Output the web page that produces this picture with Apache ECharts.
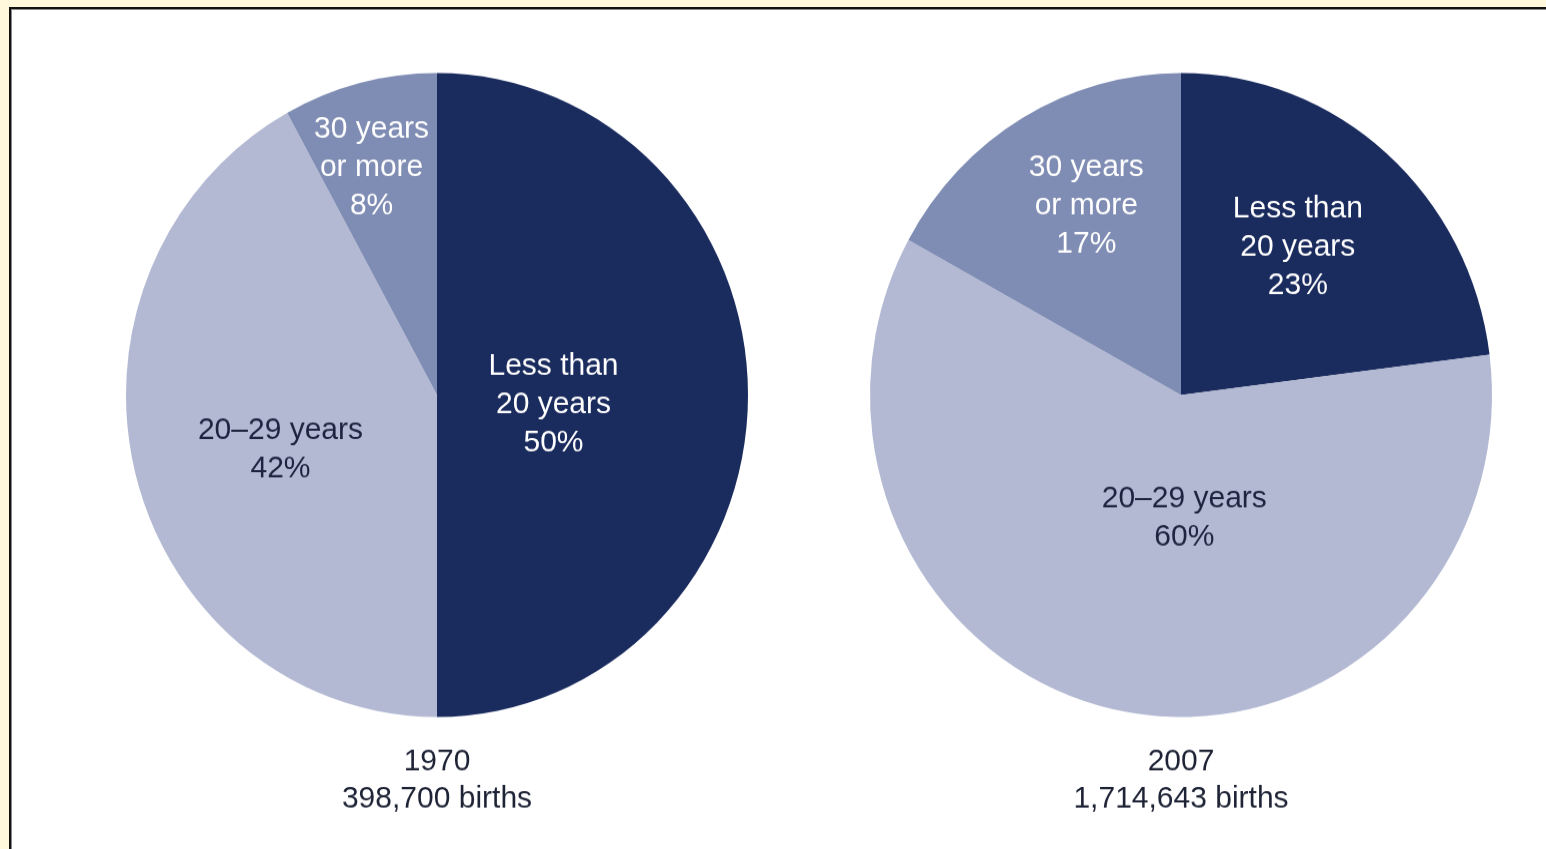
<!DOCTYPE html>
<html>
<head>
<meta charset="utf-8">
<script src="https://cdn.jsdelivr.net/npm/echarts@6/dist/echarts.min.js"></script>
<style>
  html, body { margin: 0; padding: 0; }
  body { width: 1546px; height: 849px; background: #fff8dc; position: relative; overflow: hidden; }
  #frame {
    position: absolute; left: 9px; top: 7px; right: -20px; bottom: -20px;
    background: #ffffff;
    border-top: 2px solid #111;
    border-left: 2px solid #111;
    box-shadow: inset 1px 1px 0 #8a8a8a;
  }
  /* chart is drawn slightly compressed, then stretched back vertically */
  #chart {
    position: absolute; left: 0; top: 0; width: 1546px; height: 820px;
    transform: scaleY(1.0354); transform-origin: 0 0;
  }
</style>
</head>
<body>
<div id="frame"></div>
<div id="chart"></div>
<script>
// Age of mother at birth, share of births
const ageGroups = ['Less than\n20 years', '20\u201329 years', '30 years\nor more'];
const share1970 = [50, 42, 8];
const share2007 = [23, 60, 17];
const yearLabels = ['1970', '2007'];
const birthTotals = ['398,700 births', '1,714,643 births'];

const sliceColors = ['#1a2b5e', '#b3b9d3', '#7f8cb3'];
const labelColors = ['#ffffff', '#1d2440', '#ffffff'];

// small nudges of the inside labels away from the slice mid-radius
const labelNudge = [
  [[-42, 9], [-3, 13], [-26, -66]],
  [[12, -24], [33, -37], [-14, -46]]
];

const FONT = '"Liberation Sans", Arial, sans-serif';

function pieSeries(values, center, idx) {
  return {
    type: 'pie',
    center: center,
    radius: 311,
    startAngle: 90,
    clockwise: true,
    silent: true,
    animation: false,
    label: {
      show: true,
      position: 'inside',
      fontFamily: FONT,
      fontSize: 30,
      lineHeight: 37,
      align: 'center',
      formatter: p => p.name + '\n' + p.value + '%'
    },
    labelLine: { show: false },
    labelLayout: p => ({ dx: labelNudge[idx][p.dataIndex][0], dy: labelNudge[idx][p.dataIndex][1] }),
    data: values.map((v, i) => ({
      name: ageGroups[i],
      value: v,
      itemStyle: { color: sliceColors[i] },
      label: { color: labelColors[i] }
    }))
  };
}

const chart = echarts.init(document.getElementById('chart'), null, { renderer: 'canvas' });
chart.setOption({
  backgroundColor: 'transparent',
  animation: false,
  title: yearLabels.map((y, i) => ({
    text: y + '\n' + birthTotals[i],
    left: i === 0 ? 437 : 1181,
    top: 718,
    textAlign: 'center',
    padding: 0,
    textStyle: {
      fontFamily: FONT,
      fontSize: 30,
      fontWeight: 'normal',
      lineHeight: 36,
      color: '#1e2336'
    }
  })),
  series: [
    pieSeries(share1970, [437, 381.5], 0),
    pieSeries(share2007, [1181, 381.5], 1)
  ]
});
</script>
</body>
</html>
